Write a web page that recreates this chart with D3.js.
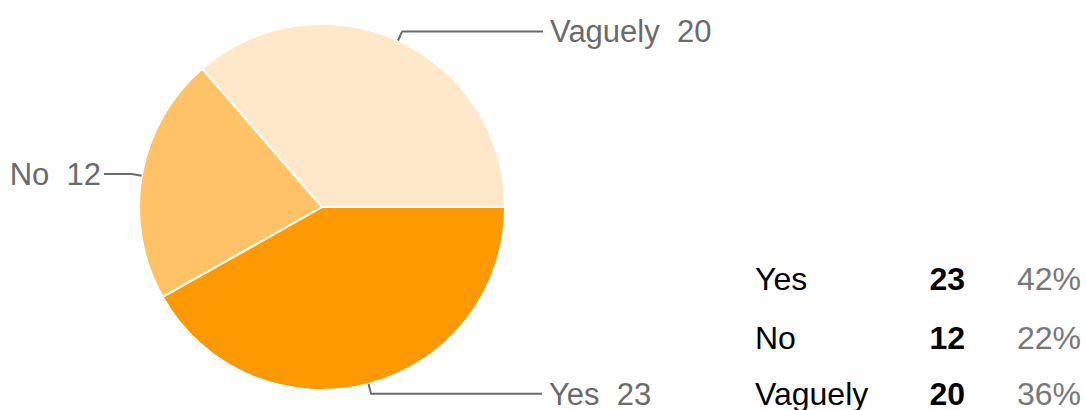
<!DOCTYPE html>
<html>
<head>
<meta charset="utf-8">
<script src="https://cdn.jsdelivr.net/npm/d3@7"></script>
<style>
body { margin: 0; background: #fff; }
text { font-family: "Liberation Sans", Arial, sans-serif; white-space: pre; }
</style>
</head>
<body>
<script>
var categories = ["Yes", "No", "Vaguely"];
var counts = [23, 12, 20];
var percents = ["42%", "22%", "36%"];
var colors = ["#ff9900", "#ffc266", "#ffe8c9"];

function main(){
	var w = 1086;
	var h = 410;
	var cx = 322, cy = 207, r = 183;

	var svg = d3.select("body")
				.append("svg")
				.attr("width", w)
				.attr("height", h);

	var data = categories.map((c, i) => ({name: c, value: counts[i], pct: percents[i], color: colors[i]}));

	var pie = d3.pie()
				.value(d => d.value)
				.sort(null)
				.startAngle(Math.PI / 2)
				.endAngle(Math.PI / 2 + 2 * Math.PI);

	var arc = d3.arc().innerRadius(0).outerRadius(r);

	var g = svg.append("g").attr("transform", "translate(" + cx + "," + cy + ")");

	var arcs = pie(data);

	g.selectAll("path.slice")
		.data(arcs)
		.enter()
		.append("path")
		.attr("class", "slice")
		.attr("d", arc)
		.attr("fill", d => d.data.color)
		.attr("stroke", "#fff")
		.attr("stroke-width", 2);

	// where each callout line stops (svg x)
	var lineEnd = {"Yes": 542, "No": 104, "Vaguely": 543};

	arcs.forEach(function(d){
		var a = (d.startAngle + d.endAngle) / 2;
		var x0 = Math.sin(a) * r, y0 = -Math.cos(a) * r;
		var x1 = Math.sin(a) * (r + 10), y1 = -Math.cos(a) * (r + 10);
		var xe = lineEnd[d.data.name] - cx;
		g.append("path")
			.attr("d", "M" + x0 + "," + y0 + "L" + x1 + "," + y1 + "L" + xe + "," + y1)
			.attr("fill", "none")
			.attr("stroke", "#6a6a6a")
			.attr("stroke-width", 2);

		var left = Math.sin(a) < 0;
		g.append("text")
			.attr("x", left ? xe - 3 : xe + 7)
			.attr("y", y1 + 11)
			.attr("text-anchor", left ? "end" : "start")
			.attr("font-size", 31)
			.attr("fill", "#6a6a6a")
			.text(d.data.name + "  " + d.data.value);
	});

	// summary table
	var rowY = [290, 349, 405];
	var tbl = svg.append("g");
	data.forEach(function(d, i){
		tbl.append("text")
			.attr("x", 755)
			.attr("y", rowY[i])
			.attr("font-size", 32)
			.attr("fill", "#000")
			.text(d.name);
		tbl.append("text")
			.attr("x", 965)
			.attr("y", rowY[i])
			.attr("text-anchor", "end")
			.attr("font-size", 32)
			.attr("font-weight", "bold")
			.attr("fill", "#000")
			.text(d.value);
		tbl.append("text")
			.attr("x", 1081)
			.attr("y", rowY[i])
			.attr("text-anchor", "end")
			.attr("font-size", 32)
			.attr("fill", "#777")
			.text(d.pct);
	});
}

main();
</script>
</body>
</html>
